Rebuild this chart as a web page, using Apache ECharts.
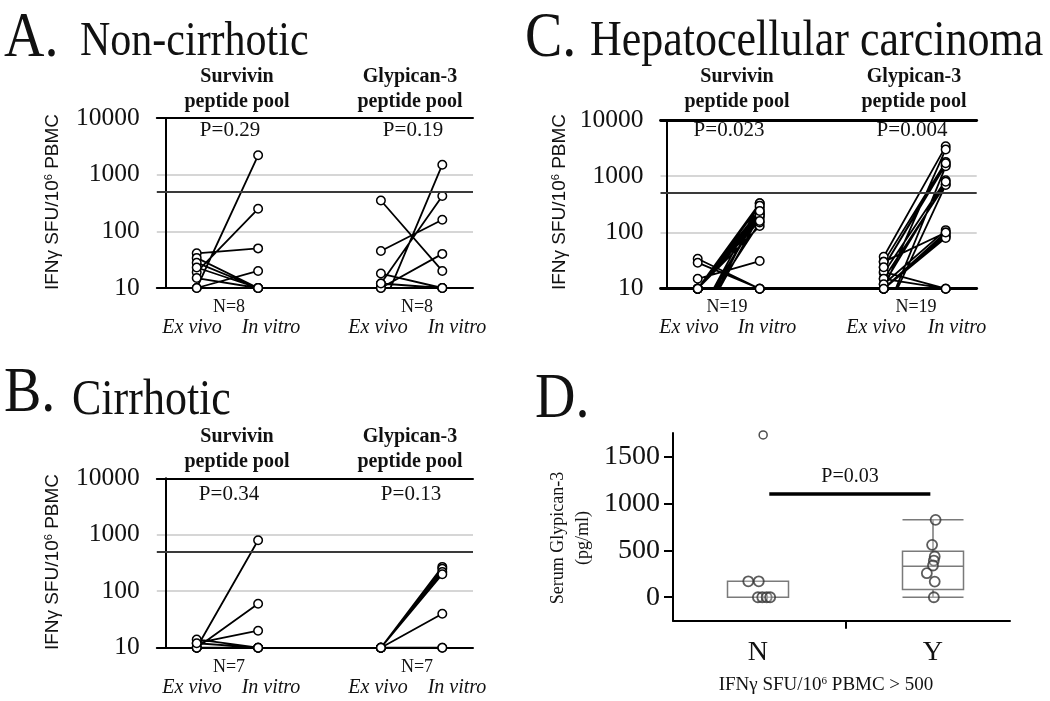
<!DOCTYPE html>
<html><head><meta charset="utf-8">
<script src="https://cdn.jsdelivr.net/npm/echarts@6/dist/echarts.min.js"></script>
<style>html,body{margin:0;padding:0;background:#fff}#c{width:1050px;height:701px}</style>
</head><body><div id="c"></div>
<script>
// ---------- data ----------
const yTicks = [10, 100, 1000, 10000];
const threshold = 500;
const survPos = [1, 3];      // Ex vivo, In vitro (Survivin)
const glyPos = [7, 9];       // Ex vivo, In vitro (Glypican-3)

// Panel A: Non-cirrhotic (N=8)
const aSurvEx = [10, 19, 41, 10, 34, 28, 23, 15];
const aSurvIn = [2200, 250, 50, 20, 10, 10, 10, 10];
const aGlyEx  = [350, 45, 4, 12, 10, 18, 10, 12];
const aGlyIn  = [20, 160, 1500, 420, 40, 10, 10, 10];

// Panel B: Cirrhotic (N=7)
const bSurvEx = [10, 10, 12, 14, 10, 10, 12];
const bSurvIn = [800, 60, 20, 10, 10, 10, 10];
const bGlyEx  = [10, 10, 10, 10, 10, 10, 10];
const bGlyIn  = [270, 250, 220, 200, 40, 10, 10];

// Panel C: HCC (N=19)
const cSurvEx = [34, 29, 15, 10, 10, 10, 10, 10, 10, 3, 3, 2, 3, 2, 10, 10, 10, 3, 10];
const cSurvIn = [10, 10, 31, 330, 220, 200, 130, 250, 180, 330, 220, 200, 150, 280, 10, 160, 300, 240, 10];
const cGlyEx  = [37, 30, 24, 19, 15, 12, 10, 10, 10, 10, 20, 15, 3, 3, 10, 12, 30, 24, 10];
const cGlyIn  = [3400, 1800, 1600, 850, 720, 110, 100, 90, 85, 80, 10, 10, 1500, 700, 3000, 800, 100, 1700, 10];

// Panel D: serum Glypican-3
const dCats = ['N', 'Y'];
const dBoxN = [0, 0, 0, 170, 170];          // min, Q1, median, Q3, max
const dBoxY = [0, 82, 330, 490, 825];
const dNx = [0.89, 1.01, 1.0, 1.05, 1.1, 1.14];
const dNy = [170, 170, 0, 0, 0, 0];
const dYx = [3.03, 2.99, 3.02, 3.01, 3.0, 2.93, 3.02, 3.01];
const dYy = [825, 558, 434, 391, 338, 256, 167, 0];
const dOutlier = [[1.06, 1730]];
const dSigBar = [[1.13, 1100], [2.97, 1100]];
const dTicks = [0, 500, 1000, 1500];

const pLabels = { A: ['P=0.29', 'P=0.19'], B: ['P=0.34', 'P=0.13'], C: ['P=0.023', 'P=0.004'] };
const nLabels = { A: 'N=8', B: 'N=7', C: 'N=19' };

// ---------- helpers ----------
const SERIF = '"Liberation Serif","Times New Roman",serif';
const SANS = '"Liberation Sans",Arial,sans-serif';
function pairs(ex, inv, pos) {
  const out = [];
  ex.forEach((e, i) => { out.push([pos[0], e], [pos[1], inv[i]], [pos[0] + 1, '-']); });
  return out;
}
function txt(x, y, text, size, extra) {
  return Object.assign({
    type: 'text', x: x, y: y, silent: true,
    style: Object.assign({ text: text, fontSize: size, fontFamily: SERIF, fill: '#111',
      align: 'center', verticalAlign: 'middle' }, (extra && extra.style) || {})
  }, (extra && extra.el) || {});
}
function panelTexts(ox, oy, key, centers) {
  const g = [];
  g.push(txt(centers.sub[0], oy + 77, 'Survivin', 20, { style: { fontWeight: 'bold' } }));
  g.push(txt(centers.sub[0], oy + 102, 'peptide pool', 20, { style: { fontWeight: 'bold' } }));
  g.push(txt(centers.sub[1], oy + 77, 'Glypican-3', 20, { style: { fontWeight: 'bold' } }));
  g.push(txt(centers.sub[1], oy + 102, 'peptide pool', 20, { style: { fontWeight: 'bold' } }));
  g.push(txt(centers.p[0], oy + centers.py, pLabels[key][0], 21));
  g.push(txt(centers.p[1], oy + centers.py, pLabels[key][1], 21));
  g.push(txt(centers.n[0], oy + 307, nLabels[key], 18));
  g.push(txt(centers.n[1], oy + 307, nLabels[key], 18));
  const lbl = ['Ex vivo', 'In vitro', 'Ex vivo', 'In vitro'];
  centers.e.forEach((cx, i) => g.push(txt(cx, oy + 328, lbl[i], 20, { style: { fontStyle: 'italic' } })));
  g.push({
    type: 'text', x: centers.yname, y: oy + 202, rotation: Math.PI / 2, silent: true,
    style: { text: 'IFNγ SFU/10{s|6} PBMC', fontSize: 19, fontFamily: SANS, fill: '#111',
      align: 'center', verticalAlign: 'middle',
      rich: { s: { fontSize: 11, fontFamily: SANS, fill: '#111', verticalAlign: 'top', padding: [0, 0, 8, 0] } } }
  });
  return g;
}

// ---------- layout ----------
const grids = [
  { left: 156.8, top: 118, width: 316.2, height: 170 },   // A
  { left: 156.8, top: 478.3, width: 316.2, height: 169.4 }, // B
  { left: 660.5, top: 120, width: 316.2, height: 168.7 },  // C
  { left: 673, top: 433, width: 337, height: 187.7 },      // D visible
  { left: 670.5, top: 433, width: 350, height: 187.7 }     // D boxplot
];

function xPair(gi, min, w) {
  const base = { type: 'value', gridIndex: gi, min: min, max: 10, axisLabel: { show: false },
    axisTick: { show: false }, splitLine: { show: false } };
  return [
    Object.assign({}, base, { position: 'bottom', axisLine: { onZero: false, lineStyle: { color: '#000', width: w } } }),
    Object.assign({}, base, { position: 'top', axisLine: { onZero: false, lineStyle: { color: '#000', width: w } } })
  ];
}
function yLog(gi) {
  return {
    type: 'log', logBase: 10, gridIndex: gi, min: 10, max: 10000,
    axisLine: { show: true, onZero: true, lineStyle: { color: '#000', width: 2 } },
    axisTick: { show: false },
    axisLabel: { fontSize: 25.5, fontFamily: SERIF, color: '#111', margin: 17, formatter: v => String(v) },
    splitLine: { show: true, lineStyle: { color: '#c8c8c8', width: 1.5 } }
  };
}

const xAxes = [].concat(xPair(0, -0.3, 2), xPair(1, -0.3, 2), xPair(2, -0.2, 2.8), [
  { type: 'value', gridIndex: 3, min: 0.03, max: 3.88,
    axisLine: { onZero: false, lineStyle: { color: '#000', width: 2 } },
    axisTick: { show: true, customValues: [2], length: 8, lineStyle: { color: '#000', width: 2 } },
    axisLabel: { customValues: [1, 3], formatter: v => dCats[Math.round((v - 1) / 2)], fontSize: 28,
      fontFamily: SERIF, color: '#111', margin: 18 },
    splitLine: { show: false } },
  { type: 'category', gridIndex: 4, data: dCats, show: false }
]);
const yAxes = [yLog(0), yLog(1), yLog(2),
  { type: 'value', gridIndex: 3, min: -250, max: 1750,
    axisLine: { show: true, onZero: false, lineStyle: { color: '#000', width: 2 } },
    axisTick: { show: true, customValues: dTicks, length: 9, lineStyle: { color: '#000', width: 2 } },
    axisLabel: { customValues: dTicks, fontSize: 28, fontFamily: SERIF, color: '#111', margin: 13, formatter: v => String(v) },
    splitLine: { show: false } },
  { type: 'value', gridIndex: 4, min: -250, max: 1750, show: false }
];

function pairSeries(xi, yi, ex, inv, pos, withMark) {
  const s = {
    type: 'line', xAxisIndex: xi, yAxisIndex: yi, data: pairs(ex, inv, pos),
    connectNulls: false, clip: true,
    lineStyle: { color: '#000', width: 1.8 },
    symbol: 'circle', symbolSize: 8.5, showAllSymbol: true,
    itemStyle: { color: '#fff', borderColor: '#000', borderWidth: 1.5 },
    z: 3
  };
  if (withMark) {
    s.markLine = { silent: true, symbol: 'none', label: { show: false },
      lineStyle: { color: '#3a3a3a', width: 2, type: 'solid' },
      data: [{ yAxis: threshold }] };
  }
  return s;
}

const series = [
  pairSeries(0, 0, aSurvEx, aSurvIn, survPos, true),
  pairSeries(0, 0, aGlyEx, aGlyIn, glyPos),
  pairSeries(2, 1, bSurvEx, bSurvIn, survPos, true),
  pairSeries(2, 1, bGlyEx, bGlyIn, glyPos),
  pairSeries(4, 2, cSurvEx, cSurvIn, survPos, true),
  pairSeries(4, 2, cGlyEx, cGlyIn, glyPos),
  { type: 'boxplot', xAxisIndex: 7, yAxisIndex: 4, data: [dBoxN, dBoxY], boxWidth: [60, 61],
    itemStyle: { color: '#fff', borderColor: '#7a7a7a', borderWidth: 1.5 }, z: 2 },
  { type: 'scatter', xAxisIndex: 6, yAxisIndex: 3, data: dNx.map((x, i) => [x, dNy[i]]),
    symbol: 'circle', symbolSize: 10, itemStyle: { color: 'rgba(255,255,255,0.3)', borderColor: '#333', borderWidth: 1.8 }, z: 4 },
  { type: 'scatter', xAxisIndex: 6, yAxisIndex: 3, data: dYx.map((x, i) => [x, dYy[i]]),
    symbol: 'circle', symbolSize: 10, itemStyle: { color: 'rgba(255,255,255,0.3)', borderColor: '#333', borderWidth: 1.8 }, z: 4 },
  { type: 'scatter', xAxisIndex: 6, yAxisIndex: 3, data: dOutlier,
    symbol: 'circle', symbolSize: 8, itemStyle: { color: '#fff', borderColor: '#222', borderWidth: 1.5 }, z: 4 },
  { type: 'line', xAxisIndex: 6, yAxisIndex: 3, data: dSigBar, symbol: 'none',
    lineStyle: { color: '#000', width: 3.5 }, z: 4 }
];

const titleEl = { scaleY: 1.15 };
const graphic = [].concat(
  [
    txt(4, 39, 'A.', 56, { style: { align: 'left' }, el: titleEl }),
    txt(80, 42, 'Non-cirrhotic', 42, { style: { align: 'left' }, el: titleEl }),
    txt(4, 394, 'B.', 56, { style: { align: 'left' }, el: titleEl }),
    txt(72, 401, 'Cirrhotic', 44, { style: { align: 'left' }, el: titleEl }),
    txt(525, 39, 'C.', 56, { style: { align: 'left' }, el: titleEl }),
    txt(590, 42, 'Hepatocellular carcinoma', 44, { style: { align: 'left' }, el: titleEl }),
    txt(535, 400, 'D.', 56, { style: { align: 'left' }, el: titleEl })
  ],
  panelTexts(0, 0, 'A', { sub: [237, 410], p: [230, 413], py: 130, n: [229, 417], e: [192, 271, 378, 457], yname: 53 }),
  panelTexts(0, 360, 'B', { sub: [237, 410], p: [229, 411], py: 134, n: [229, 417], e: [192, 271, 378, 457], yname: 53 }),
  panelTexts(0, 0, 'C', { sub: [737, 914], p: [729, 912], py: 130, n: [727, 916], e: [689, 767, 876, 957], yname: 560 }),
  [
    txt(850, 477, 'P=0.03', 20),
    txt(826, 685, 'IFNγ SFU/10{s|6} PBMC > 500', 19, { style: { rich: { s: { fontSize: 11, fontFamily: SERIF, fill: '#111', verticalAlign: 'top', padding: [0, 0, 8, 0] } } } }),
    { type: 'text', x: 571, y: 538, rotation: Math.PI / 2, silent: true,
      style: { text: 'Serum Glypican-3\n(pg/ml)', fontSize: 18, fontFamily: SERIF, fill: '#111',
        align: 'center', verticalAlign: 'middle', lineHeight: 25 } }
  ]
);

const chart = echarts.init(document.getElementById('c'), null, { renderer: 'canvas' });
chart.setOption({
  animation: false,
  backgroundColor: '#fff',
  grid: grids,
  xAxis: xAxes,
  yAxis: yAxes,
  series: series,
  graphic: graphic
});
</script>
</body></html>
